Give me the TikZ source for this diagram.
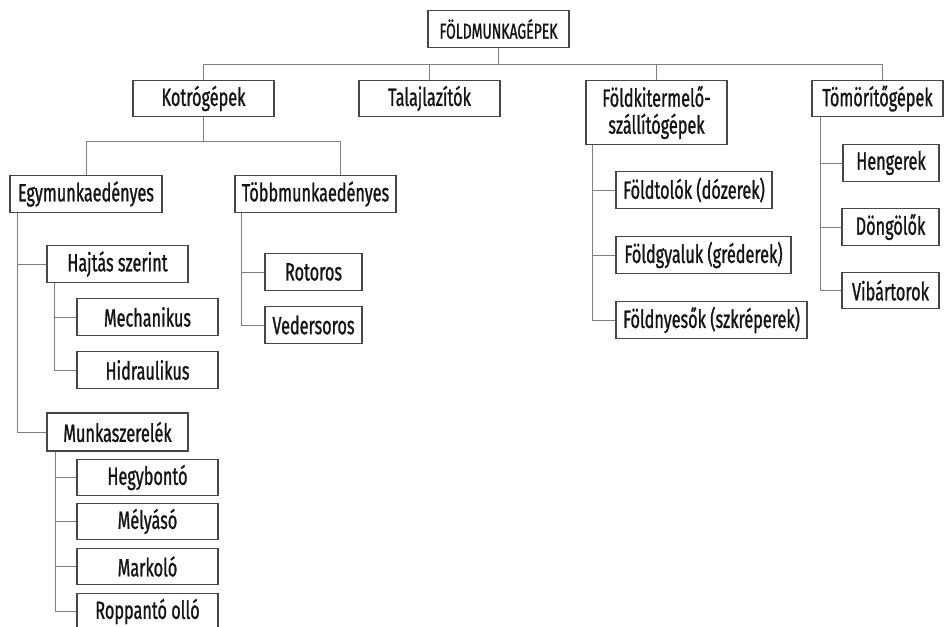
\documentclass[tikz,border=0pt]{standalone}
\usepackage{fontspec}
\setmainfont{Fira Sans}[FakeStretch=0.65, FakeBold=1]
\usetikzlibrary{calc}
\tikzset{
	box/.style={draw=black!72, line width=0.4mm, minimum height=36.5pt, inner sep=0pt, align=center, text=black!92, font=\fontsize{25}{27}\selectfont},
	link/.style={draw=black!50, line width=0.3mm},
}

\begin{document}
\begin{tikzpicture}[x=1pt, y=-1pt]
			%%%%% START %%%%%
			\useasboundingbox[fill=white] (0, 0) rectangle (944, 626);
			
			% top level
			\node[box, minimum width=141pt, font=\fontsize{21.5}{24}\selectfont] (root) at (498.5, 29) {FÖLDMUNKAGÉPEK};
			\node[box, minimum width=141pt] (kotro) at (203.5, 98.5) {Kotrógépek};
			\node[box, minimum width=141pt] (talaj) at (429.5, 98.5) {Talajlazítók};
			\node[box, minimum width=141pt, minimum height=64pt] (foldki) at (656.5, 112.5) {Földkitermelő-\\szállítógépek};
			\node[box, minimum width=131pt] (tomor) at (877.5, 98.5) {Tömörítőgépek};
			
			% excavators
			\node[box, minimum width=152pt] (egy) at (86, 194) {Egymunkaedényes};
			\node[box, minimum width=161pt] (tobb) at (315.5, 194) {Többmunkaedényes};
			
			\node[box, minimum width=141pt] (hajtas) at (117.5, 264) {Hajtás szerint};
			\node[box, minimum width=141pt] (mech) at (147.5, 317) {Mechanikus};
			\node[box, minimum width=141pt] (hidr) at (147.5, 370) {Hidraulikus};
			
			\node[box, minimum width=141pt, minimum height=38pt] (munka) at (117.5, 432) {Munkaszerelék};
			\node[box, minimum width=141pt] (hegy) at (147.5, 477.5) {Hegybontó};
			\node[box, minimum width=141pt] (mely) at (147.5, 521.5) {Mélyásó};
			\node[box, minimum width=141pt] (marko) at (147.5, 566.5) {Markoló};
			\node[box, minimum width=141pt] (roppa) at (147.5, 611.5) {Roppantó olló};
			
			\node[box, minimum width=97pt] (rotor) at (313.5, 272) {Rotoros};
			\node[box, minimum width=97pt] (veder) at (313.5, 325) {Vedersoros};
			
			% earth movers
			\node[box, minimum width=156pt] (dozer) at (694, 190) {Földtolók (dózerek)};
			\node[box, minimum width=175pt] (grader) at (703.5, 255) {Földgyaluk (gréderek)};
			\node[box, minimum width=191pt] (szkrep) at (711.5, 320) {Földnyesők (szkréperek)};
			
			% compactors
			\node[box, minimum width=96pt] (heng) at (891, 163) {Hengerek};
			\node[box, minimum width=97pt] (dong) at (890.5, 227) {Döngölők};
			\node[box, minimum width=97pt] (vibr) at (890.5, 290.5) {Vibártorok};
			
			% links
			\draw[link] (root.south) -- ++(0, 17) coordinate (bus);
			\draw[link] (kotro.north) |- (bus) -| ([xshift=4.5pt]tomor.north);
			\draw[link] (talaj.north) -- (talaj.north |- bus);
			\draw[link] (foldki.north) -- (foldki.north |- bus);
			
			\draw[link] (kotro.south) -- ++(0, 24) coordinate (kbus);
			\draw[link] (egy.north) |- (kbus) -| ([xshift=24.5pt]tobb.north);
			
			\foreach \c in {hajtas, munka}
				\draw[link] ([xshift=8pt]egy.south west) |- (\c.west);
			\foreach \c in {mech, hidr}
				\draw[link] ([xshift=8pt]hajtas.south west) |- (\c.west);
			\foreach \c in {hegy, mely, marko, roppa}
				\draw[link] ([xshift=9pt]munka.south west) |- (\c.west);
			\foreach \c in {rotor, veder}
				\draw[link] ([xshift=7pt]tobb.south west) |- (\c.west);
			\foreach \c in {dozer, grader, szkrep}
				\draw[link] ([xshift=7pt]foldki.south west) |- (\c.west);
			\foreach \c in {heng, dong, vibr}
				\draw[link] ([xshift=9pt]tomor.south west) |- (\c.west);
			
			%%%%% END %%%%%
		\end{tikzpicture}
\end{document}
